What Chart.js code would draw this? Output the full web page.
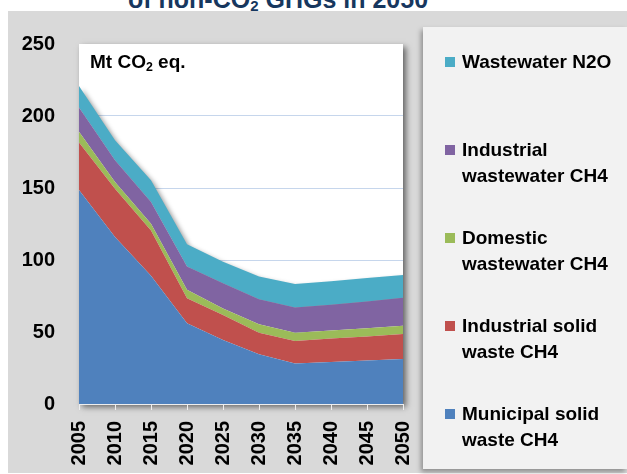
<!DOCTYPE html>
<html lang="en">
<head>
    <meta charset="UTF-8">
    <title>Non-CO2 GHG from waste</title>
    <script src="https://cdn.jsdelivr.net/npm/chart.js"></script>
    <style>
        body {
            margin: 0;
            width: 627px;
            height: 474px;
            background: #ffffff;
            font-family: "Liberation Sans", Arial, sans-serif;
            overflow: hidden;
            position: relative;
        }
        .title-strip {
            position: absolute;
            left: 0; top: 0;
            width: 627px; height: 11px;
            overflow: hidden;
        }
        .title-strip span {
            position: absolute;
            left: 128px; top: -13px;
            font-size: 25px;
            line-height: 25px;
            font-weight: bold;
            color: #17375e;
            white-space: nowrap;
        }
        .title-strip sub { font-size: 0.6em; vertical-align: -0.2em; }
        .panel {
            position: absolute;
            left: 8px; top: 11px;
            width: 619px; height: 462px;
            background: #d9d9d9;
        }
        .chart-box {
            position: absolute;
            left: 8px; top: 11px;
            width: 410px; height: 462px;
        }
        .unit {
            position: absolute;
            left: 90px; top: 51px;
            font-size: 19px;
            font-weight: bold;
            color: #000;
        }
        .unit sub { font-size: 0.65em; vertical-align: -0.25em; }
        .legend {
            position: absolute;
            left: 423px; top: 27px;
            width: 204px; height: 442px;
            background: #f2f2f2;
            box-shadow: -2px 3px 5px rgba(0,0,0,0.35);
        }
        .legend .item {
            position: absolute;
            left: 0;
        }
        .legend .swatch {
            position: absolute;
            left: 22px; top: 8px;
            width: 10px; height: 10px;
        }
        .legend .text {
            position: absolute;
            left: 39px; top: 0;
            width: 158px;
            font-size: 19px;
            line-height: 26px;
            font-weight: bold;
            color: #000;
        }
    </style>
</head>
<body>
    <div class="title-strip"><span>of non-CO<sub>2</sub> GHGs in 2050</span></div>
    <div class="panel"></div>
    <div class="chart-box"><canvas id="wasteChart"></canvas></div>
    <div class="unit">Mt CO<sub>2</sub> eq.</div>
    <div class="legend" id="legend"></div>

    <script>
        const years = ['2005', '2010', '2015', '2020', '2025', '2030', '2035', '2040', '2045', '2050'];

        // Mt CO2 eq., stacked from the bottom up
        const municipalSolid   = [148.6, 116, 89, 56, 44.4, 34.5, 28.2, 29.2, 30.2, 31.3];
        const industrialSolid  = [33, 33.5, 31.5, 17.4, 17.4, 15, 15.5, 16.2, 16.6, 17.3];
        const domesticWater    = [7.5, 4.6, 4.7, 5.9, 4.6, 5.9, 5.8, 5.6, 5.8, 5.8];
        const industrialWater  = [16.8, 15.1, 15, 16.2, 17.4, 17.3, 17.5, 17.9, 18.6, 19.3];
        const wastewaterN2O    = [15, 14, 15.2, 15.5, 15, 15.8, 16.3, 16.4, 16.3, 15.9];

        const yTicks = [0, 50, 100, 150, 200, 250];

        const series = [
            { label: 'Municipal solid waste CH4', data: municipalSolid, color: '#4f81bd' },
            { label: 'Industrial solid waste CH4', data: industrialSolid, color: '#c0504d' },
            { label: 'Domestic wastewater CH4', data: domesticWater, color: '#9bbb59' },
            { label: 'Industrial wastewater CH4', data: industrialWater, color: '#8064a2' },
            { label: 'Wastewater N2O', data: wastewaterN2O, color: '#4bacc6' }
        ];

        // white plot area with a drop shadow
        const plotBg = {
            id: 'plotBg',
            beforeDraw(chart) {
                const { ctx, chartArea: a } = chart;
                ctx.save();
                ctx.shadowColor = 'rgba(0,0,0,0.55)';
                ctx.shadowBlur = 6;
                ctx.shadowOffsetX = 3;
                ctx.shadowOffsetY = 3;
                ctx.fillStyle = '#ffffff';
                ctx.fillRect(a.left, a.top, a.width, a.height);
                ctx.restore();
            }
        };

        // shadow only under the top-most band
        const areaShadow = {
            id: 'areaShadow',
            beforeDatasetsDraw(chart) {
                const ctx = chart.ctx;
                ctx.save();
                ctx.shadowColor = 'rgba(0,0,0,0.4)';
                ctx.shadowBlur = 5;
                ctx.shadowOffsetX = 3;
                ctx.shadowOffsetY = 3;
            },
            afterDatasetDraw(chart) {
                chart.ctx.shadowColor = 'rgba(0,0,0,0)';
            },
            afterDatasetsDraw(chart) {
                chart.ctx.restore();
            }
        };

        const tickFont = { family: '"Liberation Sans", Arial, sans-serif', size: 20, weight: 'bold' };

        new Chart(document.getElementById('wasteChart'), {
            type: 'line',
            data: {
                labels: years,
                datasets: series.map((s, i) => ({
                    label: s.label,
                    data: s.data,
                    backgroundColor: s.color,
                    borderWidth: 0,
                    pointRadius: 0,
                    fill: i === 0 ? 'origin' : '-1',
                    tension: 0
                }))
            },
            options: {
                responsive: true,
                maintainAspectRatio: false,
                animation: false,
                layout: { padding: { top: 33, right: 15, left: 0, bottom: 0 } },
                plugins: {
                    legend: { display: false },
                    tooltip: { enabled: false }
                },
                scales: {
                    x: {
                        offset: false,
                        grid: {
                            drawOnChartArea: false,
                            color: '#eeeeee',
                            tickLength: 6
                        },
                        border: { color: '#eeeeee' },
                        ticks: {
                            font: tickFont,
                            color: '#000',
                            minRotation: 90,
                            maxRotation: 90,
                            autoSkip: false,
                            padding: 11
                        },
                        afterFit(scale) {
                            scale.height = 69;
                            scale.paddingLeft = 0;
                            scale.paddingRight = 0;
                        }
                    },
                    y: {
                        stacked: true,
                        min: 0,
                        max: 250,
                        afterBuildTicks(scale) { scale.ticks = yTicks.map(v => ({ value: v })); },
                        grid: {
                            drawTicks: false,
                            color: ctx => (ctx.tick && (ctx.tick.value === 0 || ctx.tick.value === 250)) ? 'rgba(0,0,0,0)' : '#c6d6ec'
                        },
                        border: { display: false },
                        ticks: {
                            font: tickFont,
                            color: '#000',
                            padding: 24
                        },
                        afterFit(scale) {
                            scale.width = 71;
                            scale.paddingTop = 0;
                            scale.paddingBottom = 0;
                        }
                    }
                }
            },
            plugins: [plotBg, areaShadow]
        });

        // legend, top series first
        const legend = document.getElementById('legend');
        series.slice().reverse().forEach((s, i) => {
            const item = document.createElement('div');
            item.className = 'item';
            item.style.top = (22 + 88 * i) + 'px';
            item.innerHTML = '<div class="swatch" style="background:' + s.color + '"></div>' +
                             '<div class="text">' + s.label + '</div>';
            legend.appendChild(item);
        });
    </script>
</body>
</html>
